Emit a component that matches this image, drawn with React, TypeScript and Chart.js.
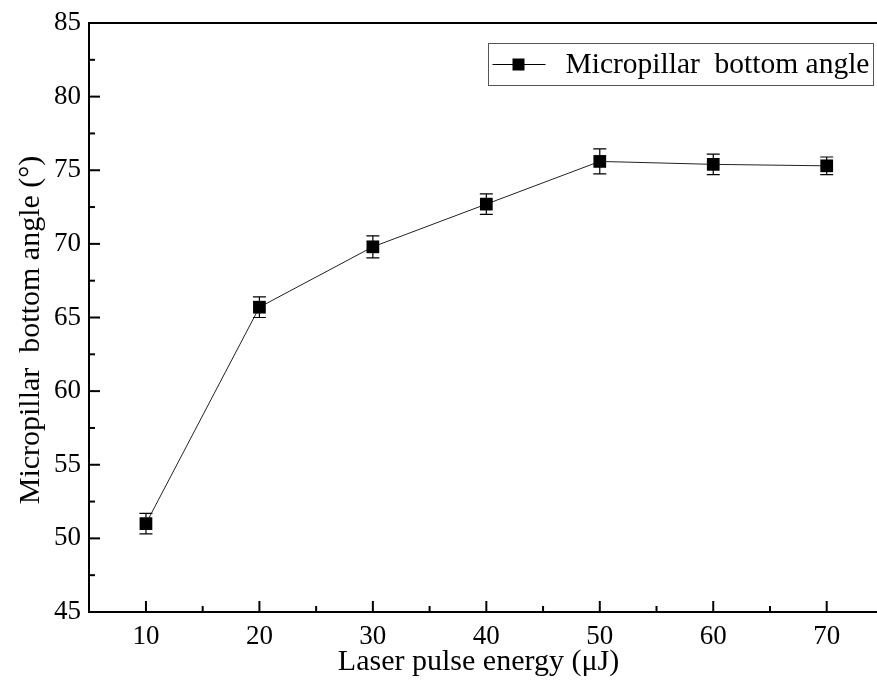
import React, { useEffect, useRef } from 'react';
import { Chart, registerables } from 'chart.js';

Chart.register(...registerables);

const energies = [10, 20, 30, 40, 50, 60, 70];
const angles = [51.0, 65.7, 69.8, 72.7, 75.6, 75.4, 75.3];
const errors = [0.7, 0.7, 0.75, 0.7, 0.85, 0.7, 0.6];
const xTickLabels = ['10', '20', '30', '40', '50', '60', '70'];
const yTickLabels = ['45', '50', '55', '60', '65', '70', '75', '80', '85'];
const seriesLabel = 'Micropillar  bottom angle';
const xTitle = 'Laser pulse energy (\u03bcJ)';
const yTitle = 'Micropillar  bottom angle (\u00b0)';

const FONT = '"Liberation Serif", "Times New Roman", serif';

const decorPlugin = {
  id: 'decor',
  beforeDatasetsDraw(chart: any) {
    const { ctx } = chart;
    const xs = chart.scales.x;
    const ys = chart.scales.y;
    ctx.save();
    ctx.strokeStyle = '#000';
    ctx.lineWidth = 1.2;
    energies.forEach((e, i) => {
      const px = xs.getPixelForValue(e);
      const top = ys.getPixelForValue(angles[i] + errors[i]);
      const bot = ys.getPixelForValue(angles[i] - errors[i]);
      ctx.beginPath();
      ctx.moveTo(px, top);
      ctx.lineTo(px, bot);
      ctx.moveTo(px - 6.5, top);
      ctx.lineTo(px + 6.5, top);
      ctx.moveTo(px - 6.5, bot);
      ctx.lineTo(px + 6.5, bot);
      ctx.stroke();
    });
    ctx.restore();
  },
  afterDraw(chart: any) {
    const { ctx, chartArea } = chart;
    const xs = chart.scales.x;
    const ys = chart.scales.y;
    const { left, top, bottom } = chartArea;
    const right = chart.width;
    ctx.save();
    ctx.strokeStyle = '#000';
    ctx.lineWidth = 2;
    ctx.beginPath();
    ctx.moveTo(right, top);
    ctx.lineTo(left, top);
    ctx.lineTo(left, bottom);
    ctx.lineTo(right, bottom);
    ctx.stroke();
    xs.ticks.forEach((t: any) => {
      const v = t.value;
      const px = xs.getPixelForValue(v);
      if (px <= left + 2 || px >= right - 2) return;
      const major = xTickLabels.includes(String(v));
      ctx.beginPath();
      ctx.moveTo(px, bottom);
      ctx.lineTo(px, bottom - (major ? 11 : 6));
      ctx.stroke();
    });
    ys.ticks.forEach((t: any) => {
      const v = t.value;
      const py = ys.getPixelForValue(v);
      if (py >= bottom - 2 || py <= top + 2) return;
      const major = yTickLabels.includes(String(v));
      ctx.beginPath();
      ctx.moveTo(left, py);
      ctx.lineTo(left + (major ? 11 : 6), py);
      ctx.stroke();
    });
    ctx.save();
    ctx.translate(31.5, 330);
    ctx.rotate(-Math.PI / 2);
    ctx.font = `30px ${FONT}`;
    ctx.fillStyle = '#000';
    ctx.textAlign = 'center';
    ctx.textBaseline = 'middle';
    ctx.fillText(yTitle, 0, 0);
    ctx.restore();
    const bx = 488.5, by = 43.5, bw = 385, bh = 42;
    ctx.lineWidth = 1;
    ctx.strokeStyle = '#555';
    ctx.strokeRect(bx, by, bw, bh);
    const ly = by + bh / 2;
    ctx.strokeStyle = '#000';
    ctx.beginPath();
    ctx.moveTo(bx + 4, ly);
    ctx.lineTo(bx + 57, ly);
    ctx.stroke();
    ctx.fillStyle = '#000';
    ctx.fillRect(bx + 24, ly - 6, 12, 12);
    ctx.font = `29.5px ${FONT}`;
    ctx.textBaseline = 'middle';
    ctx.textAlign = 'left';
    ctx.fillText(seriesLabel, bx + 77, ly + 1);
    ctx.restore();
  },
};

export default function App() {
  const ref = useRef<HTMLCanvasElement | null>(null);
  useEffect(() => {
    if (!ref.current) return;
    const chart = new Chart(ref.current, {
      type: 'line',
      data: {
        datasets: [
          {
            label: seriesLabel,
            data: energies.map((e, i) => ({ x: e, y: angles[i] })),
            borderColor: '#222',
            borderWidth: 1,
            backgroundColor: '#000',
            pointStyle: 'rect',
            pointRadius: 9,
            pointBorderWidth: 0,
            pointBackgroundColor: '#000',
            tension: 0,
          },
        ],
      },
      options: {
        animation: false,
        responsive: false,
        layout: { padding: { top: 23, right: 0, left: 0, bottom: 0 } },
        plugins: { legend: { display: false }, tooltip: { enabled: false } },
        scales: {
          x: {
            type: 'linear',
            min: 4.98,
            max: 73.64,
            grid: { display: false, drawTicks: false },
            border: { display: false },
            ticks: {
              stepSize: 5,
              includeBounds: false,
              autoSkip: false,
              maxRotation: 0,
              padding: 9,
              color: '#000',
              font: { family: FONT, size: 27 },
              callback: (v: any) => (xTickLabels.includes(String(v)) ? String(v) : ''),
            },
            title: {
              display: true,
              text: xTitle,
              color: '#000',
              font: { family: FONT, size: 30 },
              padding: { top: 0, bottom: 5 },
            },
            afterFit: (s: any) => {
              s.height = 73;
              s.paddingLeft = 0;
              s.paddingRight = 0;
            },
          },
          y: {
            min: 45,
            max: 85,
            grid: { display: false, drawTicks: false },
            border: { display: false },
            ticks: {
              stepSize: 2.5,
              autoSkip: false,
              padding: 8,
              color: '#000',
              font: { family: FONT, size: 27 },
              callback: (v: any) => (yTickLabels.includes(String(v)) ? String(v) : ''),
            },
            title: { display: false },
            afterFit: (s: any) => {
              s.width = 89;
              s.paddingTop = 0;
              s.paddingBottom = 0;
            },
          },
        },
      },
      plugins: [decorPlugin],
    } as any);
    return () => chart.destroy();
  }, []);
  return (
    <div style={{ position: 'fixed', left: 0, top: 0, width: 877, height: 685, background: '#fff' }}>
      <canvas ref={ref} width={877} height={685} style={{ display: 'block' }} />
    </div>
  );
}
